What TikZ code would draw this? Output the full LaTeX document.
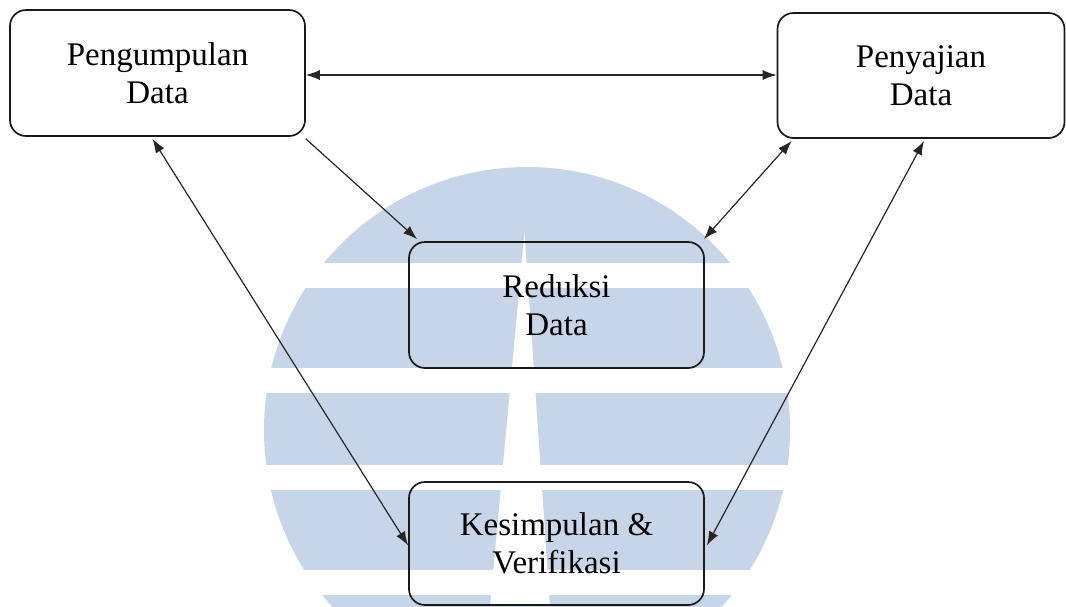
\documentclass[tikz,border=0pt]{standalone}
\usepackage{fontspec}
\setmainfont{Liberation Serif}
\usetikzlibrary{arrows.meta}
\definecolor{wmblue}{RGB}{199,213,233}
\tikzset{
  box/.style={draw=black!90, line width=1.7pt, rounded corners=16pt, align=center,
    font=\fontsize{33}{38}\selectfont, inner sep=0pt},
  conn/.style={line width=1.2pt, black!85, >={Latex[length=14pt,width=10pt]}},
}
\begin{document}
\begin{tikzpicture}[x=1pt,y=-1pt]
\useasboundingbox (0,0) rectangle (1066,606);
% watermark
\begin{scope}
  \clip (0,0) rectangle (1066,606);
  \fill[wmblue] (527,430) circle (263);
  \fill[white] (0,263) rectangle (1066,288);
  \fill[white] (0,368) rectangle (1066,393);
  \fill[white] (0,465) rectangle (1066,490);
  \fill[white] (0,570) rectangle (1066,595);
  \fill[white] (524.5,232) -- (490,606) -- (550,606) -- cycle;
\end{scope}
% nodes
\node[box, minimum width=295pt, minimum height=126pt] (b1) at (157.5,73) {Pengumpulan\\Data};
\node[box, minimum width=287pt, minimum height=125pt] (b2) at (921,75.5) {Penyajian\\Data};
\node[box, minimum width=295pt, minimum height=126pt] (b3) at (556.5,305) {Reduksi\\Data};
\node[box, minimum width=295pt, minimum height=123pt] (b4) at (556.5,543.5) {\raisebox{-4pt}{Kesimpulan \&}\\\raisebox{-4pt}{Verifikasi}};
% connectors
\draw[conn,<->] ([yshift=-2pt]b1.east) -- ([yshift=-2pt]b1.east -| b2.west);
\draw[conn,->] ([yshift=-2pt]b1.south east) -- ([xshift=9pt,yshift=2pt]b3.north west);
\draw[conn,<->] ([xshift=-1pt,yshift=2pt]b3.north east) -- ([xshift=15pt,yshift=-2pt]b2.south west);
\draw[conn,<->] ([xshift=-5pt,yshift=-2pt]b1.south) -- ([yshift=-2pt]b4.west);
\draw[conn,<->] ([xshift=3pt,yshift=-2pt]b2.south) -- ([xshift=2pt,yshift=-2pt]b4.east);
\end{tikzpicture}
\end{document}
